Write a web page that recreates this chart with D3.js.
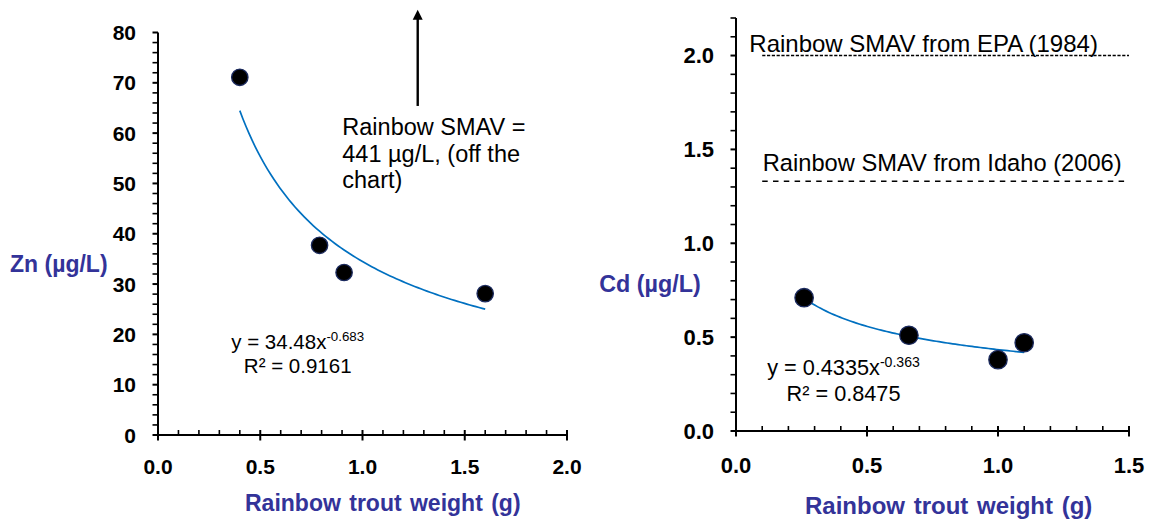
<!DOCTYPE html>
<html><head><meta charset="utf-8">
<script src="https://cdn.jsdelivr.net/npm/d3@7"></script>
<style>
html,body{margin:0;padding:0;background:#fff;}
svg{display:block;font-family:"Liberation Sans",Arial,Helvetica,sans-serif;}
</style></head><body>
<svg id="chart" width="1157" height="520"></svg>
<script>
// ---- Zinc panel data ----
const znWeight = [0.40, 0.79, 0.91, 1.60];
const znConc   = [71.1, 37.7, 32.3, 28.1];
const znFitCoef = 34.48, znFitExp = -0.683, znR2 = "0.9161";
const znXTicks = [0, 0.5, 1.0, 1.5, 2.0];
const znYTicks = [0, 10, 20, 30, 40, 50, 60, 70, 80];
const znArrow  = {x: 1.27, from: 65.4, to: 84.5};
const znNote   = ["Rainbow SMAV =", "441 µg/L, (off the", "chart)"];

// ---- Cadmium panel data ----
const cdWeight = [0.26, 0.66, 1.00, 1.10];
const cdConc   = [0.71, 0.51, 0.38, 0.47];
const cdFitCoef = 0.4335, cdFitExp = -0.363, cdR2 = "0.8475";
const cdXTicks = [0, 0.5, 1.0, 1.5];
const cdYTicks = [0, 0.5, 1.0, 1.5, 2.0];
const cdRefValues = [2.0, 1.33];
const cdRefLabels = ["Rainbow SMAV from EPA (1984)", "Rainbow SMAV from Idaho (2006)"];
const cdRefStart = 0.1;

const titleColor = "#333399";
const fitColor = "#0070C0";
const svg = d3.select("#chart");

function near(a, list) { return list.some(v => Math.abs(v - a) < 1e-6); }

function styleLabels(sel, size) {
  sel.attr("font-size", size).attr("font-weight", "bold").attr("fill", "#000")
    .attr("font-family", "'Liberation Sans',Arial,sans-serif");
}

function drawPanel(p) {
  const g = svg.append("g");
  const x = p.x, y = p.y;

  // x axis: minor ticks point inward, major ticks cross the line
  const minorX = d3.range(x.domain()[0], x.domain()[1] + 1e-9, p.xMinor).filter(v => !near(v, p.xTicks));
  g.append("g").attr("transform", `translate(0,${y.range()[0]})`)
    .call(d3.axisBottom(x).offset(0).tickValues(minorX).tickSize(-5).tickFormat(""))
    .call(a => a.select(".domain").remove())
    .call(a => a.selectAll("line").attr("stroke", "#000").attr("stroke-width", 1.6));
  g.append("g").attr("transform", `translate(0,${y.range()[0]})`)
    .call(d3.axisBottom(x).offset(0).tickValues(p.xTicks).tickSizeOuter(0).tickFormat(d3.format(".1f")))
    .call(a => a.select(".domain").attr("stroke", "#000").attr("stroke-width", 2))
    .call(a => a.selectAll("line").attr("y1", -5).attr("y2", 5.5).attr("stroke", "#000").attr("stroke-width", 2))
    .call(a => a.selectAll("text").attr("y", p.xLabelY).attr("dy", 0).call(styleLabels, p.tickFont));

  // y axis: all ticks outside
  const minorY = d3.range(y.domain()[0], y.domain()[1] + 1e-9, p.yMinor).filter(v => !near(v, p.yTicks));
  g.append("g").attr("transform", `translate(${x.range()[0]},0)`)
    .call(d3.axisLeft(y).offset(0).tickValues(minorY).tickSize(5.5).tickFormat(""))
    .call(a => a.select(".domain").remove())
    .call(a => a.selectAll("line").attr("stroke", "#000").attr("stroke-width", 1.6));
  g.append("g").attr("transform", `translate(${x.range()[0]},0)`)
    .call(d3.axisLeft(y).offset(0).tickValues(p.yTicks).tickSize(5.5).tickSizeOuter(0).tickPadding(16.5).tickFormat(p.yFormat))
    .call(a => a.select(".domain").attr("stroke", "#000").attr("stroke-width", 2))
    .call(a => a.selectAll("line").attr("stroke", "#000").attr("stroke-width", 2))
    .call(a => a.selectAll("text").attr("dy", "0.36em").call(styleLabels, p.tickFont));

  // axis titles
  g.append("text").attr("x", p.xTitle[0]).attr("y", p.xTitle[1])
    .attr("font-size", p.xTitle[2]).attr("font-weight", "bold").attr("fill", titleColor)
    .attr("word-spacing", 2)
    .text("Rainbow trout weight (g)");
  g.append("text").attr("x", p.yTitle[0]).attr("y", p.yTitle[1])
    .attr("font-size", p.yTitle[2]).attr("font-weight", "bold").attr("fill", titleColor)
    .text(p.yLabel);

  // power-law trendline from the fitted coefficients
  const xs = d3.extent(p.weight);
  const fitPts = d3.range(0, 81).map(i => {
    const w = xs[0] + (xs[1] - xs[0]) * i / 80;
    return [w, p.coef * Math.pow(w, p.exp)];
  });
  g.append("path").datum(fitPts)
    .attr("d", d3.line().x(d => x(d[0])).y(d => y(d[1])))
    .attr("fill", "none").attr("stroke", fitColor).attr("stroke-width", 1.7);

  // observations
  g.selectAll("circle.obs").data(p.weight.map((w, i) => [w, p.conc[i]])).join("circle")
    .attr("class", "obs")
    .attr("cx", d => x(d[0])).attr("cy", d => y(d[1])).attr("r", p.r)
    .attr("fill", "#000").attr("stroke", "#1b2a5e").attr("stroke-width", 1.3);

  // fit equation
  const eq = g.append("text").attr("x", p.eqPos[0]).attr("y", p.eqPos[1])
    .attr("text-anchor", "middle").attr("font-size", p.eqFont).attr("fill", "#000");
  eq.append("tspan").text(`y = ${p.coef}x`);
  eq.append("tspan").attr("dy", -8.3).attr("font-size", p.eqFont * 0.65).text(`${p.exp}`);
  g.append("text").attr("x", p.eqPos[0]).attr("y", p.eqPos[1] + p.eqGap)
    .attr("text-anchor", "middle").attr("font-size", p.eqFont).attr("fill", "#000")
    .text(`R² = ${p.r2}`);
  return g;
}

// ---- Zinc panel ----
const xL = d3.scaleLinear([0, 2], [158, 567]);
const yL = d3.scaleLinear([0, 80], [435, 32.5]);
const gL = drawPanel({
  x: xL, y: yL, xTicks: znXTicks, yTicks: znYTicks, xMinor: 0.1, yMinor: 2,
  yFormat: d3.format("d"), tickFont: 21, xLabelY: 39,
  xTitle: [245, 510.5, 23], yTitle: [10, 271.5, 23], yLabel: "Zn (µg/L)",
  weight: znWeight, conc: znConc, coef: znFitCoef, exp: znFitExp, r2: znR2,
  r: 8.2, eqPos: [297.7, 349.3], eqGap: 24, eqFont: 20.5
});

// arrow pointing to the off-scale SMAV
gL.append("line")
  .attr("x1", xL(znArrow.x)).attr("x2", xL(znArrow.x))
  .attr("y1", yL(znArrow.from)).attr("y2", yL(znArrow.to) + 9)
  .attr("stroke", "#000").attr("stroke-width", 2.4);
gL.append("path")
  .attr("d", d3.line()([[xL(znArrow.x) - 5, yL(znArrow.to) + 10], [xL(znArrow.x), yL(znArrow.to)], [xL(znArrow.x) + 5, yL(znArrow.to) + 10]]) + "Z")
  .attr("fill", "#000");
gL.append("text").attr("font-size", 23.5).attr("fill", "#000")
  .selectAll("tspan").data(znNote).join("tspan")
  .attr("x", 342.3).attr("y", (d, i) => 135 + i * 26.7)
  .text(d => d);

// ---- Cadmium panel ----
const xR = d3.scaleLinear([0, 1.5], [736, 1129]);
const yR = d3.scaleLinear([0, 2.2], [431, 18]);
const gR = drawPanel({
  x: xR, y: yR, xTicks: cdXTicks, yTicks: cdYTicks, xMinor: 0.1, yMinor: 0.1,
  yFormat: d3.format(".1f"), tickFont: 22, xLabelY: 42,
  xTitle: [805, 514, 24], yTitle: [599.3, 291.7, 23.3], yLabel: "Cd (µg/L)",
  weight: cdWeight, conc: cdConc, coef: cdFitCoef, exp: cdFitExp, r2: cdR2,
  r: 9.2, eqPos: [843.5, 375], eqGap: 26, eqFont: 21.7
});

// reference SMAV lines
const refDash = ["3.2,1.6", "5.5,5.3"];
const refLabelX = [749.3, 762.7];
const refLabelY = [52.3, 170.7];
const refFont = [24, 23.7];
cdRefValues.forEach((v, i) => {
  gR.append("line")
    .attr("x1", xR(cdRefStart)).attr("x2", xR(1.5))
    .attr("y1", yR(v)).attr("y2", yR(v))
    .attr("stroke", "#000").attr("stroke-width", 1.5).attr("stroke-dasharray", refDash[i]);
  gR.append("text").attr("x", refLabelX[i]).attr("y", refLabelY[i])
    .attr("font-size", refFont[i]).attr("fill", "#000").text(cdRefLabels[i]);
});
</script>
</body></html>
